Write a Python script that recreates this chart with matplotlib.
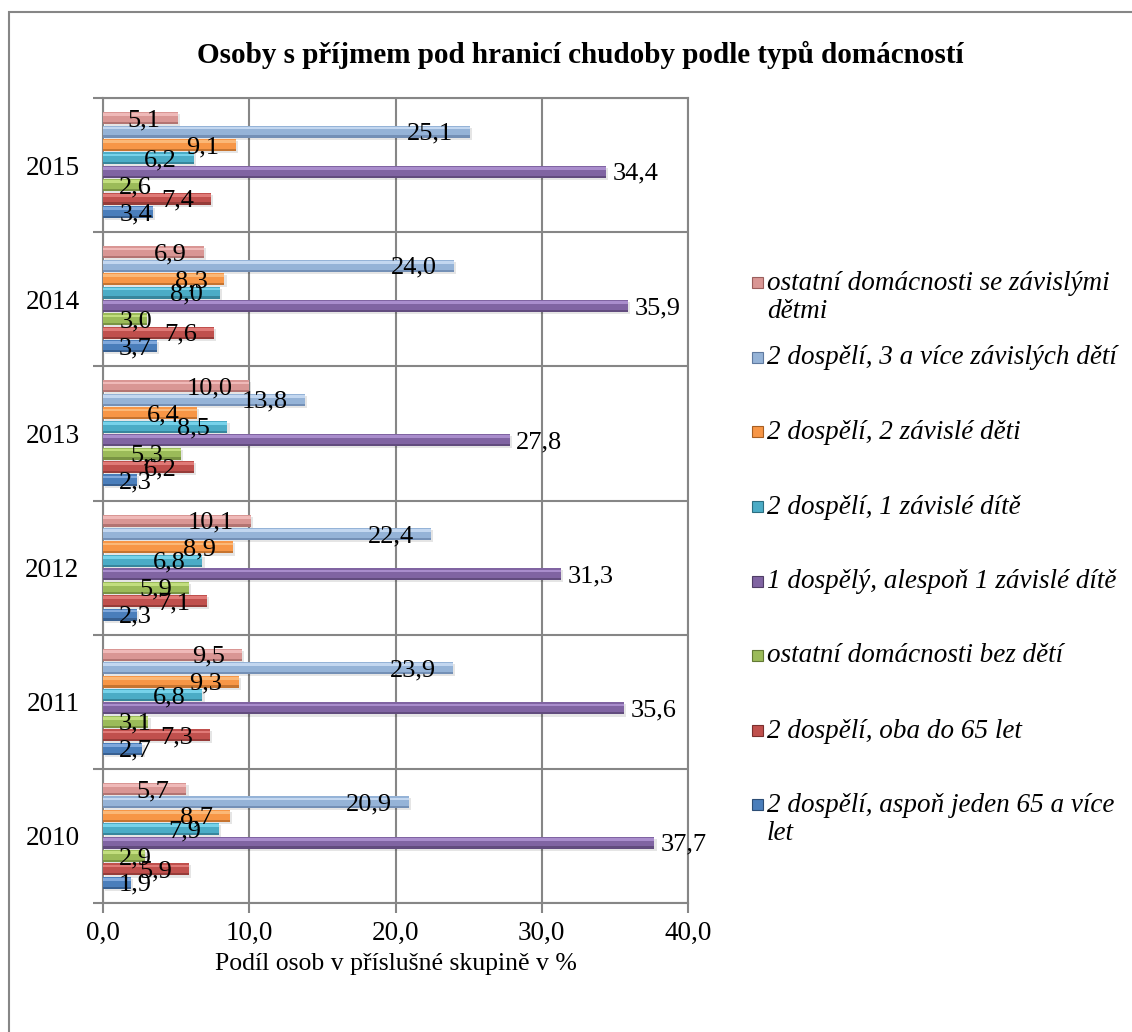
import matplotlib
matplotlib.use("Agg")
import matplotlib.pyplot as plt
from matplotlib.patches import Rectangle
from matplotlib.ticker import FuncFormatter, FixedLocator
import numpy as np

# data (in %)
years = ["2010", "2011", "2012", "2013", "2014", "2015"]
series_names = [
    "2 dospělí, aspoň jeden 65 a více\nlet",
    "2 dospělí, oba do 65 let",
    "ostatní domácnosti bez dětí",
    "1 dospělý, alespoň 1 závislé dítě",
    "2 dospělí, 1 závislé dítě",
    "2 dospělí, 2 závislé děti",
    "2 dospělí, 3 a více závislých dětí",
    "ostatní domácnosti se závislými\ndětmi",
]
two_plus_65 = [1.9, 2.7, 2.3, 2.3, 3.7, 3.4]
two_under_65 = [5.9, 7.3, 7.1, 6.2, 7.6, 7.4]
other_no_kids = [2.9, 3.1, 5.9, 5.3, 3.0, 2.6]
one_adult_kids = [37.7, 35.6, 31.3, 27.8, 35.9, 34.4]
two_one_kid = [7.9, 6.8, 6.8, 8.5, 8.0, 6.2]
two_two_kids = [8.7, 9.3, 8.9, 6.4, 8.3, 9.1]
two_three_kids = [20.9, 23.9, 22.4, 13.8, 24.0, 25.1]
other_with_kids = [5.7, 9.5, 10.1, 10.0, 6.9, 5.1]
values = [two_plus_65, two_under_65, other_no_kids, one_adult_kids,
          two_one_kid, two_two_kids, two_three_kids, other_with_kids]

# (base, highlight, shade) per series
colors = [
    ("#4A7EBB", "#7FA8DC", "#2C4D75"),
    ("#C0504D", "#E07A77", "#7A2F2D"),
    ("#9BBB59", "#C2DE7E", "#637A35"),
    ("#8064A2", "#A98DCC", "#4F3D66"),
    ("#4BACC6", "#76D2EA", "#2B6E80"),
    ("#F79646", "#FBB877", "#A65E22"),
    ("#95B3D7", "#C3D7F0", "#5F7AA0"),
    ("#D99694", "#EFB9B8", "#9A5E5C"),
]

serif = ["Liberation Serif", "DejaVu Serif"]
plt.rcParams["font.family"] = serif

fig = plt.figure(figsize=(11.32, 10.32), dpi=100)
W, H = 1132, 1032
ax = fig.add_axes([103 / W, 1 - 903 / H, (688 - 103) / W, (903 - 98) / H])

y = np.arange(len(years))
pitch = 0.1
bh = 0.09
for i, vals in enumerate(values):
    base, hi, sh = colors[i]
    yy = y + (i - 3.5) * pitch
    # soft shadow
    ax.barh(yy - 0.015, vals, height=bh, left=0.15, color="#000000", alpha=0.10, zorder=2)
    ax.barh(yy, vals, height=bh, color=base, zorder=3)
    ax.barh(yy + bh * 0.28, vals, height=bh * 0.22, color=hi, zorder=4)
    ax.barh(yy - bh * 0.41, vals, height=bh * 0.18, color=sh, alpha=0.6, zorder=4)
    for yc, v in zip(yy, vals):
        if i == 3:
            ax.text(v + 0.45, yc - 0.015, f"{v:.1f}".replace(".", ","), ha="left",
                    va="center", fontsize=19, zorder=6)
        else:
            ax.text(max(v - 1.16, 3.35), yc - 0.015, f"{v:.1f}".replace(".", ","),
                    ha="right", va="center", fontsize=19, zorder=6)

ax.set_xlim(0, 40)
ax.set_ylim(-0.5, 5.5)
ax.set_xticks([0, 10, 20, 30, 40])
ax.xaxis.set_major_formatter(FuncFormatter(lambda v, p: f"{v:.1f}".replace(".", ",")))
ax.yaxis.set_major_locator(FixedLocator(np.arange(-0.5, 6.0, 1.0)))
ax.yaxis.set_minor_locator(FixedLocator(y))
ax.set_yticklabels([], minor=False)
ax.set_yticklabels(years, minor=True)
ax.tick_params(axis="y", which="major", length=7, width=1.5, color="#868686", direction="out")
ax.tick_params(axis="y", which="minor", length=0, pad=17, labelsize=19.5)
ax.tick_params(axis="x", length=7, width=1.5, color="#868686", direction="out",
               labelsize=19.5, pad=6)
ax.grid(True, which="major", color="#868686", linewidth=1.5, zorder=0)
ax.set_axisbelow(True)
for s in ax.spines.values():
    s.set_color("#868686")
    s.set_linewidth(1.5)

ax.set_xlabel("Podíl osob v příslušné skupině v %", fontsize=18.5, labelpad=5)

fig.text(580 / W, 1 - 55 / H, "Osoby s příjmem pod hranicí chudoby podle typů domácností",
         ha="center", va="center", fontsize=21, fontweight="bold")

# legend, top entry first
leg_y = [283, 358, 432, 507, 582, 656, 731, 805]
for k, i in enumerate(range(len(series_names) - 1, -1, -1)):
    yp = leg_y[k]
    fig.patches.append(Rectangle((752 / W, 1 - (yp + 5) / H), 11 / W, 11 / H,
                                 transform=fig.transFigure, facecolor=colors[i][0],
                                 edgecolor=colors[i][2], linewidth=0.8))
    fig.text(767 / W, 1 - yp / H, series_names[i].split("\n")[0], ha="left",
             va="center", fontsize=19.5, style="italic")
    if "\n" in series_names[i]:
        fig.text(767 / W, 1 - (yp + 28) / H, series_names[i].split("\n")[1], ha="left",
                 va="center", fontsize=19.5, style="italic")

# chart border (only top and left edges are inside the picture)
fig.patches.append(Rectangle((9 / W, -0.05), 1.2, 1 - 12 / H + 0.05,
                             transform=fig.transFigure, fill=False,
                             edgecolor="#868686", linewidth=1.5))

fig.savefig("out.png", dpi=100)
